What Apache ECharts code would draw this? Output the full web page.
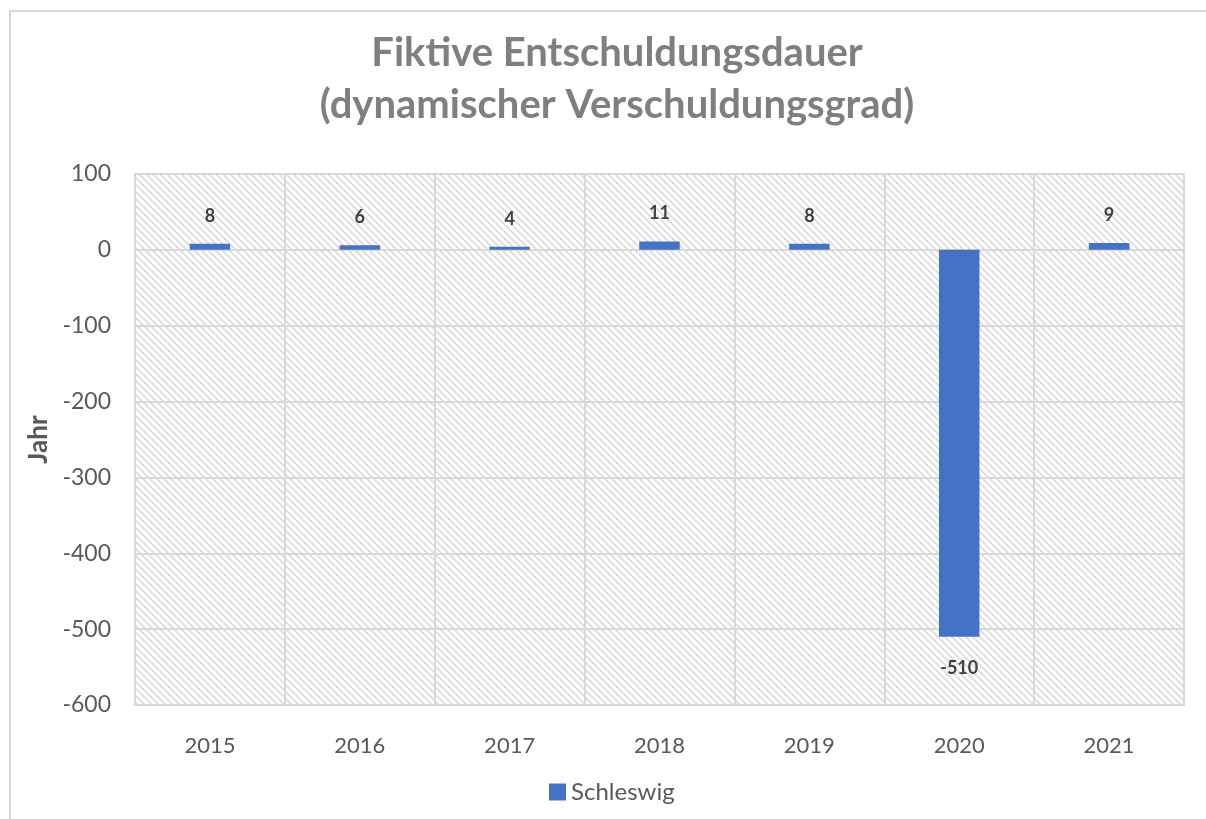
<!DOCTYPE html>
<html>
<head>
<meta charset="utf-8">
<script src="https://cdn.jsdelivr.net/npm/echarts@6/dist/echarts.min.js"></script>
<style>
  html, body { margin: 0; padding: 0; background: #fff; }
  #chart { width: 1206px; height: 819px; }
</style>
</head>
<body>
<div id="chart"></div>
<script>
// Fiktive Entschuldungsdauer je Jahr (Schleswig)
const years = ['2015', '2016', '2017', '2018', '2019', '2020', '2021'];
const schleswig = [8, 6, 4, 11, 8, -510, 9];
const seriesName = 'Schleswig';
const yTicks = { min: -600, max: 100, step: 100 };

// diagonal hatch tile for the plot background
function hatchTile() {
  const s = 7;
  const c = document.createElement('canvas');
  c.width = s; c.height = s;
  const g = c.getContext('2d');
  g.fillStyle = '#ffffff';
  g.fillRect(0, 0, s, s);
  g.strokeStyle = '#dadada';
  g.lineWidth = 1.6;
  g.beginPath();
  g.moveTo(-1, -1); g.lineTo(s + 1, s + 1);
  g.moveTo(-1, s - 1); g.lineTo(1, s + 1);
  g.moveTo(s - 1, -1); g.lineTo(s + 1, 1);
  g.stroke();
  return c;
}

const font = 'Lato, "Open Sans", sans-serif';
const chart = echarts.init(document.getElementById('chart'), null, { renderer: 'canvas' });

// negative values get their label under the bar end
const barData = schleswig.map(v => v < 0
  ? { value: v, label: { position: 'bottom', distance: 22 } }
  : v);

chart.setOption({
  animation: false,
  backgroundColor: '#ffffff',
  title: {
    text: 'Fiktive Entschuldungsdauer\n(dynamischer Verschuldungsgrad)',
    left: 612,
    textAlign: 'center',
    top: 22,
    textStyle: {
      fontFamily: font,
      fontWeight: 'bold',
      fontSize: 40,
      lineHeight: 52,
      color: '#7f7f7f'
    }
  },
  graphic: [{
    type: 'rect',
    shape: { x: 10, y: 11, width: 1400, height: 1000 },
    style: { fill: 'none', stroke: '#d9d9d9', lineWidth: 2 },
    z: -1
  }],
  grid: {
    left: 135,
    right: 22,
    top: 174,
    bottom: 114,
    show: true,
    backgroundColor: { image: hatchTile(), repeat: 'repeat' },
    borderColor: '#d9d9d9',
    borderWidth: 2
  },
  legend: {
    bottom: 10,
    left: 544,
    itemWidth: 17,
    itemHeight: 17,
    itemGap: 7,
    icon: 'rect',
    textStyle: { fontFamily: font, fontSize: 24, color: '#595959' },
    data: [seriesName]
  },
  xAxis: {
    type: 'category',
    data: years,
    axisLine: { show: true, onZero: false, lineStyle: { color: '#d9d9d9', width: 2 } },
    axisTick: { show: false },
    splitLine: { show: true, lineStyle: { color: '#d9d9d9', width: 2 } },
    axisLabel: { fontFamily: font, fontSize: 22, color: '#595959', margin: 30 }
  },
  yAxis: {
    type: 'value',
    min: yTicks.min,
    max: yTicks.max,
    interval: yTicks.step,
    name: 'Jahr',
    nameLocation: 'middle',
    nameGap: 82,
    nameTextStyle: { fontFamily: font, fontSize: 26, fontWeight: 'bold', color: '#595959' },
    axisLine: { show: false },
    axisTick: { show: false },
    splitLine: { show: true, lineStyle: { color: '#d9d9d9', width: 2 } },
    axisLabel: { fontFamily: font, fontSize: 23, color: '#595959', margin: 24 }
  },
  series: [{
    name: seriesName,
    type: 'bar',
    data: barData,
    barWidth: '27%',
    itemStyle: { color: '#4472c4' },
    label: {
      show: true,
      position: 'top',
      distance: 19,
      fontFamily: font,
      fontSize: 18,
      fontWeight: 'bold',
      color: '#404040'
    }
  }]
});
</script>
</body>
</html>
